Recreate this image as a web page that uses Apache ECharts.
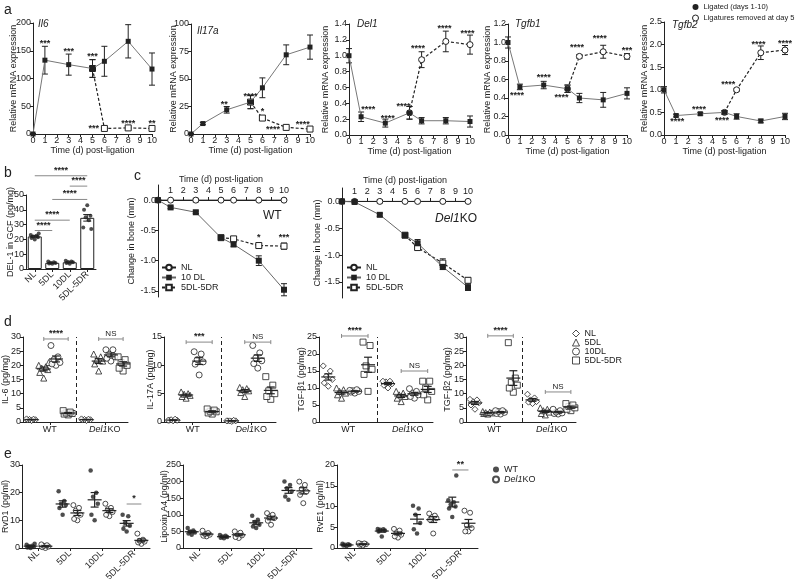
<!DOCTYPE html>
<html>
<head>
<meta charset="utf-8">
<script src="https://cdn.jsdelivr.net/npm/echarts@6/dist/echarts.min.js"></script>
<style>html,body{margin:0;background:#fff}#main{width:800px;height:579px}</style>
</head>
<body>
<div id="main"></div>
<script>
// ---------- panel a: mRNA time course ----------
const days = [0, 1, 3, 5, 6, 8, 10];
const remDays = [5, 6, 8, 10];
const il6Lig = [0, 133, 125, 118, 131, 167, 117];
const il6LigErr = [1, 25, 19, 16, 27, 30, 29];
const il6Rem = [118, 10, 11, 10];
const il6RemErr = [16, 2, 2, 3];
const il17aLig = [0, 9.5, 22, 29, 42, 72, 79];
const il17aLigErr = [0.5, 1, 3, 6, 9, 9, 11];
const il17aRem = [29, 14.5, 6, 4.5];
const il17aRemErr = [6, 2, 1, 1];
const del1Lig = [1.0, 0.23, 0.15, 0.28, 0.18, 0.18, 0.17];
const del1LigErr = [0.09, 0.06, 0.05, 0.08, 0.04, 0.04, 0.07];
const del1Rem = [0.28, 0.95, 1.18, 1.14];
const del1RemErr = [0.08, 0.1, 0.13, 0.12];
const tgfb1Lig = [1.0, 0.52, 0.54, 0.5, 0.4, 0.38, 0.45];
const tgfb1LigErr = [0.06, 0.03, 0.04, 0.04, 0.05, 0.08, 0.06];
const tgfb1Rem = [0.5, 0.85, 0.9, 0.85];
const tgfb1RemErr = [0.04, 0.02, 0.07, 0.03];
const tgfb2Lig = [1.0, 0.43, 0.47, 0.5, 0.41, 0.31, 0.41];
const tgfb2LigErr = [0.07, 0.03, 0.03, 0.04, 0.06, 0.04, 0.07];
const tgfb2Rem = [0.5, 1.0, 1.82, 1.88];
const tgfb2RemErr = [0.04, 0.03, 0.15, 0.1];
// significance marks: [day, level, text]
const il6Stars = [[1, 166, '***'], [3, 153, '***'], [5, 144, '***'], [5.1, 14, '***'], [8, 22, '****'], [10, 22, '**']];
const il17aStars = [[2.8, 29, '**'], [5, 36, '****'], [6, 22, '*'], [6.9, 5.5, '****'], [9.4, 10, '****']];
const del1Stars = [[1.6, 0.35, '****'], [3.2, 0.23, '****'], [4.5, 0.39, '****'], [5.7, 1.11, '****'], [7.9, 1.37, '****'], [9.8, 1.3, '****']];
const tgfb1Stars = [[0.75, 0.45, '****'], [3, 0.64, '****'], [4.5, 0.43, '****'], [5.8, 0.97, '****'], [7.7, 1.07, '****'], [10, 0.94, '***']];
const tgfb2Stars = [[1.1, 0.35, '****'], [2.9, 0.61, '****'], [4.8, 0.37, '****'], [5.3, 1.16, '****'], [7.8, 2.04, '****'], [10, 2.06, '****']];

// ---------- panel b: DEL-1 in GCF ----------
const bCats = ['NL', '5DL', '10DL', '5DL-5DR'];
const bNL = [20, 21, 21.5, 22, 22.5, 23, 24];
const b5DL = [3.5, 3.8, 4, 4.2, 4.5, 5];
const b10DL = [3.5, 4, 4.5, 4.8, 5, 5.5];
const b5DR = [43, 40, 36, 35, 33, 28, 27];
const bBrackets = [[0, 3, 63, '****'], [2, 3, 56, '****'], [1, 3, 47, '****'], [0, 2, 33, '****'], [0, 1, 26, '****']];

// ---------- panel c: bone loss ----------
const cDays = [0, 1, 3, 5, 6, 8, 10];
const cRemDays = [5, 6, 8, 10];
const cTicks = [1, 2, 3, 4, 5, 6, 7, 8, 9, 10];
const cNL = [0, 0, 0, 0, 0, 0, 0];
const cNLErr = [0, 0, 0.03, 0, 0, 0, 0];
const wt10DL = [0, -0.12, -0.2, -0.62, -0.73, -1.0, -1.48];
const wt10DLErr = [0, 0.02, 0.02, 0.03, 0.04, 0.08, 0.1];
const wtRem = [-0.62, -0.64, -0.75, -0.76];
const wtRemErr = [0.03, 0.04, 0.03, 0.05];
const ko10DL = [0, -0.01, -0.25, -0.63, -0.78, -1.22, -1.6];
const ko10DLErr = [0, 0.02, 0.03, 0.04, 0.07, 0.05, 0.06];
const koRem = [-0.63, -0.86, -1.15, -1.47];
const koRemErr = [0.04, 0.04, 0.08, 0.05];
const wtStars = [[8, -0.59, '*'], [10, -0.58, '***']];

// ---------- panel d: cytokines, groups NL / 5DL / 10DL / 5DL-5DR ----------
const dKinds = ['NL', '5DL', '10DL', '5DL-5DR'];
const il6WT = [[0.5, 0.7, 0.8, 0.9, 1.0, 1.1], [15.5, 17.5, 18.5, 19, 19.5, 20, 21], [20, 20.5, 21, 22, 23, 27], [2.5, 2.8, 3, 3.2, 3.5, 4]];
const il6KO = [[0.5, 0.7, 0.8, 0.9, 1.0, 1.1], [18, 20.5, 21.5, 22, 23, 24], [21.5, 22.5, 23, 24, 25.5, 25.5], [18, 19, 20, 21, 22, 23]];
const il17WT = [[0.2, 0.3, 0.3, 0.4, 0.5, 0.3], [4.2, 4.5, 4.7, 4.9, 5.0, 5.3], [8.3, 10.2, 10.6, 11, 12, 12.4], [1.4, 1.6, 1.8, 1.9, 2.1, 2.3]];
const il17KO = [[0.1, 0.2, 0.2, 0.2, 0.3, 0.2], [4.5, 5.2, 5.5, 5.7, 5.9, 6.1], [9.5, 10.3, 10.8, 11.3, 12.2, 13.5], [4, 4.5, 5, 5.5, 6.5, 8]];
const tgf1WT = [[10.5, 11.5, 12.5, 13.5, 15, 16.5], [7, 8, 8.5, 9, 9.5, 10], [8.5, 8.8, 9, 9.2, 9.5, 9.3], [9, 14, 15.5, 16.5, 22.5, 23.5]];
const tgf1KO = [[10, 10.8, 11.2, 11.8, 12, 12], [6, 7, 7.5, 8, 8.5, 9], [7, 7.5, 8, 8.5, 9, 9.8], [6.5, 8, 9, 10, 12, 12]];
const tgf2WT = [[4.5, 6, 6.8, 7.2, 7.8, 8], [2.8, 3, 3.2, 3.3, 3.5, 3.7], [2.8, 3, 3.4, 3.7, 4, 4], [10.5, 12, 13, 14, 15.5, 28]];
const tgf2KO = [[6.5, 7, 7.2, 7.8, 8.5, 9.8], [2.5, 3, 3.5, 4, 4.5, 5], [2.8, 3, 3.2, 3.5, 4, 4.5], [4, 4.5, 5, 5.5, 6, 6.5]];

// ---------- panel e: lipid mediators, WT vs Del1KO ----------
const eCats = ['NL', '5DL', '10DL', '5DL-5DR'];
const rvd1WT = [[0, 0.2, 0.4, 0.6, 0.8, 1.2, 1.5], [12, 14.5, 15.5, 16, 17, 20.5], [10, 12, 16, 18.5, 20, 28], [6, 7, 8, 9, 11.5, 12]];
const rvd1KO = [[0, 0.3, 0.5, 0.8, 1.0, 1.3], [10, 10.5, 12, 13.5, 14.5, 15.5], [11.5, 12, 13, 14, 14.5, 16], [1.5, 2, 2.3, 2.6, 3, 5.2]];
const lxa4WT = [[40, 44, 47, 50, 53, 60], [29, 31, 33, 35, 37, 39], [60, 65, 70, 78, 85, 97], [145, 155, 170, 180, 190, 200]];
const lxa4KO = [[35, 37, 40, 42, 45, 52], [30, 33, 38, 42, 46, 50], [70, 82, 90, 95, 100, 105], [135, 160, 170, 178, 190, 200]];
const rve1WT = [[0.4, 0.6, 0.7, 0.8, 0.9, 1.0], [2.8, 4.0, 4.2, 4.4, 4.5, 4.6], [3.5, 4.5, 6, 8, 9.5, 10.2], [7.5, 9.5, 10, 10.5, 11, 11.5, 17.5]];
const rve1KO = [[0.6, 0.8, 0.9, 1.0, 1.1, 1.2], [2.5, 2.8, 3.2, 3.8, 4.2, 4.6], [3.5, 6.8, 7.2, 7.5, 7.8, 8.3], [4, 4, 4.8, 5.5, 8.5, 9]];

const font = 'Liberation Sans';
const ink = '#222';
const jit = [0, -4, 4, -2, 2, -5, 5];

const grid = [], xAxis = [], yAxis = [], series = [], graphic = [], legend = [];

function merge(a, b) {
  for (const k in b) {
    if (b[k] && typeof b[k] === 'object' && !Array.isArray(b[k]) && a[k] && typeof a[k] === 'object') merge(a[k], b[k]);
    else a[k] = b[k];
  }
  return a;
}
function valAxis(min, max, interval, extra) {
  const ax = {
    type: 'value', min: min, max: max,
    axisLine: { show: true, onZero: false, lineStyle: { color: ink, width: 1 } },
    axisTick: { show: true, length: 3, lineStyle: { color: ink } },
    axisLabel: { fontSize: 9, color: ink, margin: 2, fontFamily: font },
    splitLine: { show: false },
    nameLocation: 'middle',
    nameMoveOverlap: false,
    nameTextStyle: { fontSize: 9, color: ink, fontFamily: font }
  };
  if (interval) ax.interval = interval;
  return merge(ax, extra || {});
}
function addGrid(box, xa, ya) {
  const gi = grid.length;
  grid.push(Object.assign({ outerBoundsMode: 'none', containLabel: false }, box));
  xAxis.push(Object.assign({ gridIndex: gi }, xa));
  yAxis.push(Object.assign({ gridIndex: gi }, ya));
  return gi;
}
function seg(x1, y1, x2, y2, style) {
  return { type: 'line', shape: { x1: x1, y1: y1, x2: x2, y2: y2 }, style: style };
}
function mean(a) { return a.reduce((s, v) => s + v, 0) / a.length; }
function sem(a) {
  const m = mean(a);
  return Math.sqrt(a.reduce((s, v) => s + (v - m) * (v - m), 0) / (a.length - 1) / a.length);
}
function errBars(gi, pts, color, cap, z) {
  series.push({
    type: 'custom', xAxisIndex: gi, yAxisIndex: gi, clip: false, silent: true, z: z || 1,
    data: pts,
    renderItem: function (p, api) {
      const x = api.value(0), y = api.value(1), e = api.value(2);
      if (!e) return null;
      const hi = api.coord([x, y + e]), lo = api.coord([x, y - e]);
      const st = { stroke: color, lineWidth: 1 };
      return { type: 'group', children: [
        seg(hi[0], hi[1], lo[0], lo[1], st),
        seg(hi[0] - cap, hi[1], hi[0] + cap, hi[1], st),
        seg(lo[0] - cap, lo[1], lo[0] + cap, lo[1], st)
      ] };
    }
  });
}
function meanSem(gi, pts, mw, cw) {
  series.push({
    type: 'custom', xAxisIndex: gi, yAxisIndex: gi, clip: false, silent: true, z: 5,
    data: pts,
    renderItem: function (p, api) {
      const x = api.value(0), m = api.value(1), s = api.value(2);
      const c = api.coord([x, m]), hi = api.coord([x, m + s]), lo = api.coord([x, m - s]);
      const st = { stroke: ink, lineWidth: 1.2 };
      return { type: 'group', children: [
        seg(c[0] - mw, c[1], c[0] + mw, c[1], st),
        seg(hi[0], hi[1], lo[0], lo[1], st),
        seg(hi[0] - cw, hi[1], hi[0] + cw, hi[1], st),
        seg(lo[0] - cw, lo[1], lo[0] + cw, lo[1], st)
      ] };
    }
  });
}
function marks(gi, items, size, dy) {
  series.push({
    type: 'custom', xAxisIndex: gi, yAxisIndex: gi, clip: false, silent: true, z: 6,
    data: items.map(t => [t[0], t[1]]),
    renderItem: function (p, api) {
      const c = api.coord([api.value(0), api.value(1)]);
      return { type: 'text', x: c[0], y: c[1] + dy, style: {
        text: items[p.dataIndex][2], fontSize: size, fontWeight: 'bold', fill: ink,
        align: 'center', verticalAlign: 'middle', fontFamily: font } };
    }
  });
}
function brackets(gi, items, tick, color) {
  series.push({
    type: 'custom', xAxisIndex: gi, yAxisIndex: gi, clip: false, silent: true, z: 6,
    data: items.map(b => [b[0], b[1], b[2]]),
    renderItem: function (p, api) {
      const a = api.coord([api.value(0), api.value(2)]);
      const b = api.coord([api.value(1), api.value(2)]);
      const st = { stroke: color, lineWidth: 1 };
      const txt = items[p.dataIndex][3];
      const ch = [seg(a[0], a[1], b[0], b[1], st)];
      if (tick) ch.push(seg(a[0], a[1] - tick, a[0], a[1] + tick, st), seg(b[0], b[1] - tick, b[0], b[1] + tick, st));
      ch.push({ type: 'text', x: (a[0] + b[0]) / 2, y: a[1] - 1, style: {
        text: txt, fontSize: txt === 'NS' ? 8 : 9, fontWeight: txt === 'NS' ? 'normal' : 'bold',
        fill: ink, align: 'center', verticalAlign: 'bottom', fontFamily: font } });
      return { type: 'group', children: ch };
    }
  });
}
function text(t, left, top, size, extra) {
  graphic.push({ type: 'text', left: left, top: top, silent: true,
    style: Object.assign({ text: t, fontSize: size, fill: ink, fontFamily: font }, extra || {}) });
}

// ---------- build panel a ----------
const aPanels = [
  { gene: 'Il6', box: { left: 33, top: 23, width: 119, height: 111 }, max: 200, step: 50, dec: 0, gap: 15,
    lig: il6Lig, ligErr: il6LigErr, rem: il6Rem, remErr: il6RemErr, stars: il6Stars, sym: 'rect', title: [38, 19] },
  { gene: 'Il17a', box: { left: 191, top: 24, width: 119, height: 110 }, max: 100, step: 25, dec: 0, gap: 13,
    lig: il17aLig, ligErr: il17aLigErr, rem: il17aRem, remErr: il17aRemErr, stars: il17aStars, sym: 'rect', title: [197, 26] },
  { gene: 'Del1', box: { left: 349, top: 24, width: 121, height: 111 }, max: 1.4, step: 0.2, dec: 1, gap: 19,
    lig: del1Lig, ligErr: del1LigErr, rem: del1Rem, remErr: del1RemErr, stars: del1Stars, sym: 'circle', title: [357, 19] },
  { gene: 'Tgfb1', box: { left: 508, top: 24, width: 119, height: 111 }, max: 1.2, step: 0.2, dec: 1, gap: 16,
    lig: tgfb1Lig, ligErr: tgfb1LigErr, rem: tgfb1Rem, remErr: tgfb1RemErr, stars: tgfb1Stars, sym: 'circle', title: [515, 19] },
  { gene: 'Tgfb2', box: { left: 664, top: 22, width: 121, height: 113 }, max: 2.5, step: 0.5, dec: 1, gap: 15,
    lig: tgfb2Lig, ligErr: tgfb2LigErr, rem: tgfb2Rem, remErr: tgfb2RemErr, stars: tgfb2Stars, sym: 'circle', title: [672, 20] }
];
aPanels.forEach(g => {
  const gi = addGrid(g.box,
    valAxis(0, 10, 1, { name: 'Time (d) post-ligation', nameGap: 12 }),
    valAxis(0, g.max, g.step, { name: 'Relative mRNA expression', nameGap: g.gap,
      axisLabel: { formatter: v => v.toFixed(g.dec) } }));
  series.push({
    type: 'line', name: 'Ligatures removed at day 5', xAxisIndex: gi, yAxisIndex: gi, silent: true, z: 2,
    data: remDays.map((d, i) => [d, g.rem[i]]), symbol: g.sym, symbolSize: 6, showAllSymbol: true,
    itemStyle: { color: '#fff', borderColor: ink, borderWidth: 1 },
    lineStyle: { color: ink, width: 1.2, type: [3, 2] }
  });
  series.push({
    type: 'line', name: 'Ligated (days 1-10)', xAxisIndex: gi, yAxisIndex: gi, silent: true, z: 3,
    data: days.map((d, i) => [d, g.lig[i]]), symbol: 'rect', symbolSize: 5, showAllSymbol: true,
    itemStyle: { color: ink }, lineStyle: { color: '#777', width: 1 }
  });
  errBars(gi, days.map((d, i) => [d, g.lig[i], g.ligErr[i]]), ink, 3, 1);
  errBars(gi, remDays.map((d, i) => [d, g.rem[i], g.remErr[i]]), ink, 3, 1);
  marks(gi, g.stars, 9, 2);
  text(g.gene, g.title[0], g.title[1], 10, { fontStyle: 'italic' });
});
legend.push({
  left: 692, top: 3, padding: 0, orient: 'vertical', selectedMode: false, itemWidth: 6, itemHeight: 6, itemGap: 3,
  textStyle: { fontSize: 7.5, color: ink, fontFamily: font },
  data: [
    { name: 'Ligated (days 1-10)', icon: 'circle', itemStyle: { color: ink, borderWidth: 0 } },
    { name: 'Ligatures removed at day 5', icon: 'circle', itemStyle: { color: '#fff', borderColor: ink, borderWidth: 1 } }
  ]
});

// ---------- build panel b ----------
(function () {
  const groups = [bNL, b5DL, b10DL, b5DR];
  const gi = addGrid({ left: 26, top: 195, width: 70, height: 74 },
    { type: 'category', data: bCats,
      axisLine: { show: true, lineStyle: { color: ink } },
      axisTick: { show: true, alignWithLabel: true, length: 3, lineStyle: { color: ink } },
      axisLabel: { rotate: 45, fontSize: 9, color: ink, margin: 4, interval: 0, fontFamily: font } },
    valAxis(0, 50, 10, { name: 'DEL-1 in GCF (pg/mg)', nameGap: 11 }));
  series.push({
    type: 'bar', xAxisIndex: gi, yAxisIndex: gi, silent: true, barWidth: 14, z: 2,
    data: groups.map(mean), itemStyle: { color: '#fff', borderColor: ink, borderWidth: 1 }
  });
  errBars(gi, groups.map((g, i) => [i, mean(g), sem(g)]), ink, 4, 4);
  const pts = [];
  groups.forEach((g, i) => g.forEach((v, j) => pts.push({ value: [i, v], symbolOffset: [jit[j] * 0.8, 0] })));
  series.push({
    type: 'scatter', xAxisIndex: gi, yAxisIndex: gi, silent: true, z: 3,
    data: pts, symbol: 'circle', symbolSize: 4, itemStyle: { color: ink }
  });
  brackets(gi, bBrackets, 0, '#888');
})();

// ---------- build panel c ----------
function panelC(box, yMin, ten, tenErr, rem, remErr, gap, legendLeft) {
  const gi = addGrid(box,
    valAxis(0, 10, 1, { show: false }),
    valAxis(yMin, 0.25, null, { name: 'Change in bone (mm)', nameGap: gap,
      axisTick: { customValues: [-1.5, -1, -0.5, 0] },
      axisLabel: { customValues: [-1.5, -1, -0.5, 0], formatter: v => v.toFixed(1) } }));
  // time axis drawn along the zero line of the bone-change axis
  const zeroY = Math.round(box.top + box.height * 0.25 / (0.25 - yMin));
  addGrid({ left: box.left, top: zeroY, width: box.width, height: 1 },
    valAxis(0, 10, 1, { position: 'top', name: 'Time (d) post-ligation', nameGap: 16,
      axisTick: { customValues: cTicks }, axisLabel: { customValues: cTicks, margin: 5 } }),
    { type: 'value', show: false, min: 0, max: 1 });
  series.push({
    type: 'line', name: 'NL', xAxisIndex: gi, yAxisIndex: gi, silent: true, z: 3,
    data: cDays.map((d, i) => [d, cNL[i]]), symbol: 'circle', symbolSize: 6, showAllSymbol: true,
    itemStyle: { color: '#fff', borderColor: ink, borderWidth: 1 }, lineStyle: { color: ink, width: 1 }
  });
  series.push({
    type: 'line', name: '5DL-5DR', xAxisIndex: gi, yAxisIndex: gi, silent: true, z: 2,
    data: cRemDays.map((d, i) => [d, rem[i]]), symbol: 'rect', symbolSize: 6, showAllSymbol: true,
    itemStyle: { color: '#fff', borderColor: ink, borderWidth: 1 }, lineStyle: { color: ink, width: 1.2, type: [3, 2] }
  });
  series.push({
    type: 'line', name: '10 DL', xAxisIndex: gi, yAxisIndex: gi, silent: true, z: 4,
    data: cDays.map((d, i) => [d, ten[i]]), symbol: 'rect', symbolSize: 6, showAllSymbol: true,
    itemStyle: { color: ink }, lineStyle: { color: '#666', width: 1 }
  });
  errBars(gi, cDays.map((d, i) => [d, cNL[i], cNLErr[i]]), ink, 3, 1);
  errBars(gi, cDays.map((d, i) => [d, ten[i], tenErr[i]]), ink, 3, 1);
  errBars(gi, cRemDays.map((d, i) => [d, rem[i], remErr[i]]), ink, 3, 1);
  legend.push({
    left: legendLeft, top: 258, orient: 'vertical', selectedMode: false, itemWidth: 14, itemHeight: 7, itemGap: 1,
    textStyle: { fontSize: 9, color: ink, fontFamily: font }, data: ['NL', '10 DL', '5DL-5DR']
  });
  return gi;
}
const cWT = panelC({ left: 158, top: 185, width: 126, height: 112 }, -1.6, wt10DL, wt10DLErr, wtRem, wtRemErr, 22, 156);
marks(cWT, wtStars, 9, 2);
panelC({ left: 342, top: 188, width: 126, height: 110 }, -1.8, ko10DL, ko10DLErr, koRem, koRemErr, 20, 341);
text('WT', 263, 210, 12);
text('{i|Del1}KO', 435, 213, 12, { rich: { i: { fontStyle: 'italic', fontSize: 12, fontFamily: font, fill: ink } } });

// ---------- build panel d ----------
const dSymbols = ['diamond', 'triangle', 'circle', 'rect'];
function panelD(box, name, max, gap, wt, ko, bWT, bKO) {
  const gi = addGrid(box,
    valAxis(0.3, 8.9, null, {
      axisTick: { customValues: [2.5, 7] },
      axisLabel: { customValues: [2.5, 7], margin: 3, formatter: v => (v < 5 ? 'WT' : '{i|Del1}KO'),
        rich: { i: { fontStyle: 'italic', fontSize: 9, color: ink, fontFamily: font } } } }),
    valAxis(0, max, 5, { name: name, nameGap: gap }));
  const ms = [];
  dKinds.forEach((k, i) => {
    const data = [];
    wt[i].forEach((v, j) => data.push({ value: [1 + i, v], symbolOffset: [jit[j], 0] }));
    ko[i].forEach((v, j) => data.push({ value: [5.5 + i, v], symbolOffset: [jit[j], 0] }));
    const s = {
      type: 'scatter', name: 'd-' + k, xAxisIndex: gi, yAxisIndex: gi, silent: true, z: 3,
      data: data, symbol: dSymbols[i], symbolSize: 6,
      itemStyle: { color: '#fff', borderColor: ink, borderWidth: 1 }
    };
    if (i === 0) s.markLine = { silent: true, symbol: 'none', label: { show: false },
      lineStyle: { type: [4, 3], color: ink, width: 1 }, data: [{ xAxis: 4.7 }] };
    series.push(s);
    ms.push([1 + i, mean(wt[i]), sem(wt[i])], [5.5 + i, mean(ko[i]), sem(ko[i])]);
  });
  meanSem(gi, ms, 7, 4);
  brackets(gi, [[2, 4, bWT[0], bWT[1]], [6.5, 8.5, bKO[0], bKO[1]]], 2, '#888');
}
panelD({ left: 23, top: 337, width: 105, height: 85 }, 'IL-6 (pg/mg)', 30, 13, il6WT, il6KO, [29.3, '****'], [29.3, 'NS']);
panelD({ left: 164, top: 337, width: 112, height: 85 }, 'IL-17A (pg/mg)', 15, 9, il17WT, il17KO, [14.1, '***'], [14.1, 'NS']);
panelD({ left: 319, top: 337, width: 114, height: 85 }, 'TGF-β1 (pg/mg)', 25, 13, tgf1WT, tgf1KO, [25.3, '****'], [15, 'NS']);
panelD({ left: 466, top: 337, width: 110, height: 85 }, 'TGF-β2 (pg/mg)', 30, 14, tgf2WT, tgf2KO, [30.4, '****'], [10.6, 'NS']);
legend.push({
  left: 567, top: 324, orient: 'vertical', selectedMode: false, itemWidth: 7, itemHeight: 7, itemGap: 0,
  itemStyle: { borderWidth: 1 },
  textStyle: { fontSize: 9, color: ink, fontFamily: font },
  data: dKinds.map(k => 'd-' + k), formatter: n => n.slice(2)
});

// ---------- build panel e ----------
function panelE(box, name, max, step, gap, wt, ko, sig) {
  const gi = addGrid(box,
    valAxis(-0.5, 3.5, null, {
      axisTick: { customValues: [0, 1, 2, 3] },
      axisLabel: { customValues: [0, 1, 2, 3], rotate: 45, margin: 4, formatter: v => eCats[v] } }),
    valAxis(0, max, step, { name: name, nameGap: gap }));
  const dWT = [], dKO = [], ms = [];
  eCats.forEach((c, i) => {
    wt[i].forEach((v, j) => dWT.push({ value: [i - 0.23, v], symbolOffset: [jit[j] * 0.8, 0] }));
    ko[i].forEach((v, j) => dKO.push({ value: [i + 0.23, v], symbolOffset: [jit[j] * 0.8, 0] }));
    ms.push([i - 0.23, mean(wt[i]), sem(wt[i])], [i + 0.23, mean(ko[i]), sem(ko[i])]);
  });
  series.push({ type: 'scatter', name: 'e-WT', xAxisIndex: gi, yAxisIndex: gi, silent: true, z: 3,
    data: dWT, symbol: 'circle', symbolSize: 4.5, itemStyle: { color: ink } });
  series.push({ type: 'scatter', name: 'e-KO', xAxisIndex: gi, yAxisIndex: gi, silent: true, z: 3,
    data: dKO, symbol: 'circle', symbolSize: 5, itemStyle: { color: '#fff', borderColor: ink, borderWidth: 1 } });
  meanSem(gi, ms, 7, 4);
  if (sig) brackets(gi, [[3 - 0.23, 3 + 0.23, sig[0], sig[1]]], 0, '#888');
}
panelE({ left: 22, top: 465, width: 128, height: 83 }, 'RvD1 (pg/ml)', 30, 10, 12, rvd1WT, rvd1KO, [15.9, '*']);
panelE({ left: 183, top: 465, width: 129, height: 83 }, 'Lipoxin A4 (pg/ml)', 250, 50, 14, lxa4WT, lxa4KO, null);
panelE({ left: 337, top: 465, width: 141, height: 83 }, 'RvE1 (pg/ml)', 20, 5, 12, rve1WT, rve1KO, [18.8, '**']);
legend.push({
  left: 487, top: 460, orient: 'vertical', selectedMode: false, itemWidth: 6, itemHeight: 6, itemGap: 1,
  textStyle: { fontSize: 9, color: ink, fontFamily: font, rich: { i: { fontStyle: 'italic', fontSize: 9, color: ink, fontFamily: font } } },
  data: ['e-WT', 'e-KO'], formatter: n => (n === 'e-WT' ? 'WT' : '{i|Del1}KO')
});

// panel letters
text('a', 4, 3, 14);
text('b', 4, 166, 14);
text('c', 134, 169, 14);
text('d', 4, 315, 14);
text('e', 4, 447, 14);

const chart = echarts.init(document.getElementById('main'));
chart.setOption({
  animation: false,
  textStyle: { fontFamily: font },
  grid: grid, xAxis: xAxis, yAxis: yAxis, series: series, legend: legend, graphic: graphic
});
window.addEventListener('resize', () => chart.resize());
</script>
</body>
</html>
